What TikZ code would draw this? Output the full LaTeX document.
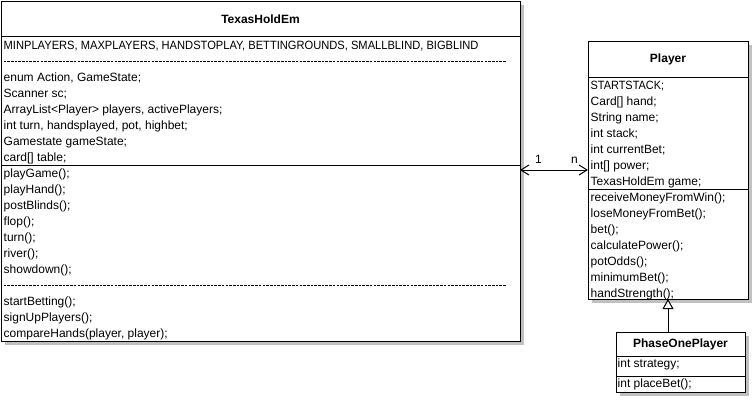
\documentclass[tikz,border=0pt]{standalone}
\usepackage{fontspec}
\setmainfont{Liberation Sans}
\usetikzlibrary{arrows.meta}
\definecolor{shadowgray}{RGB}{192,192,192}
\begin{document}
\begin{tikzpicture}[x=1pt,y=-1pt,
  box/.style={draw=black, line width=1pt, fill=white, rectangle, anchor=north west,
    inner sep=0pt, outer sep=0pt},
  txt/.style={anchor=base west, inner sep=0pt, font=\fontsize{12}{14}\selectfont},
  ttl/.style={anchor=base, inner sep=0pt, font=\fontsize{12}{14}\selectfont\bfseries},
  sep/.style={draw=black, line width=1pt},
  dsep/.style={draw=black, line width=0.8pt, dash pattern=on 2.6pt off 1.1pt},
  assoc/.style={draw=black, line width=1pt, {Straight Barb[length=8pt,width=10pt]}-{Straight Barb[length=8pt,width=10pt]}},
  inherit/.style={draw=black, line width=1pt, -{Triangle[open, length=10pt, width=11pt, fill=white]}}
]
\useasboundingbox (0,0) rectangle (756,418);
\fill[white] (0,0) rectangle (756,418);

% shadows
\fill[shadowgray] (520,5) rectangle (524,345);
\fill[shadowgray] (5,341) rectangle (524,345);
\fill[shadowgray] (748,45) rectangle (752,303);
\fill[shadowgray] (592,299) rectangle (752,303);
\fill[shadowgray] (745,336) rectangle (749,396);
\fill[shadowgray] (620,392) rectangle (749,396);

% TexasHoldEm
\node[box, minimum width=519pt, minimum height=340pt] (th) at (1,1) {};
\node[ttl] (thT) at (260.5,23) {TexasHoldEm};
\draw[sep] (1,36) -- (520,36);
\node[txt] (thc) at (3.5,49) {\scalebox{0.928}[1]{MINPLAYERS, MAXPLAYERS, HANDSTOPLAY, BETTINGROUNDS, SMALLBLIND, BIGBLIND}};
\draw[dsep] (3.5,61.5) -- (506,61.5);
\foreach \t [count=\i from 0] in {{enum Action, GameState;},{Scanner sc;},{ArrayList<Player> players, activePlayers;},{int turn, handsplayed, pot, highbet;},{Gamestate gameState;},{card[] table;}}
  \node[txt] (tha\i) at (3.5,81+16*\i) {\t};
\draw[sep] (1,165) -- (520,165);
\foreach \t [count=\i from 0] in {{playGame();},{playHand();},{postBlinds();},{flop();},{turn();},{river();},{showdown();}}
  \node[txt] (thm\i) at (3.5,177+16*\i) {\t};
\draw[dsep] (3.5,285.5) -- (506,285.5);
\foreach \t [count=\i from 0] in {{startBetting();},{signUpPlayers();},{compareHands(player, player);}}
  \node[txt] (thn\i) at (3.5,305+16*\i) {\t};

% Player
\node[box, minimum width=160pt, minimum height=258pt] (pl) at (588,41) {};
\node[ttl] (plT) at (668,62) {Player};
\draw[sep] (588,77) -- (748,77);
\node[txt] (pla0) at (590.5,89) {\scalebox{0.91}[1]{STARTSTACK;}};
\foreach \t [count=\i from 1] in {{Card[] hand;},{String name;},{int stack;},{int currentBet;},{int[] power;},{TexasHoldEm game;}}
  \node[txt] (pla\i) at (590.5,89+16*\i) {\t};
\draw[sep] (588,189) -- (748,189);
\foreach \t [count=\i from 0] in {{receiveMoneyFromWin();},{loseMoneyFromBet();},{bet();},{calculatePower();},{potOdds();},{minimumBet();},{handStrength();}}
  \node[txt] (plm\i) at (590.5,201+16*\i) {\t};

% PhaseOnePlayer
\node[box, minimum width=129pt, minimum height=60pt] (po) at (616,332) {};
\node[ttl] (poT) at (680.5,347) {PhaseOnePlayer};
\draw[sep] (616,356) -- (745,356);
\node[txt] (poa) at (617.5,367) {int strategy;};
\draw[sep] (616,376) -- (745,376);
\node[txt] (pom) at (617.5,387) {int placeBet();};

% connectors
\draw[assoc] (pl.west -| th.east) -- (pl.west);
\node[txt] (one) at (535,163) {1};
\node[txt] (enn) at (571,163) {n};
\draw[inherit] (po.north -| pl.south) -- (pl.south);
\end{tikzpicture}
\end{document}
